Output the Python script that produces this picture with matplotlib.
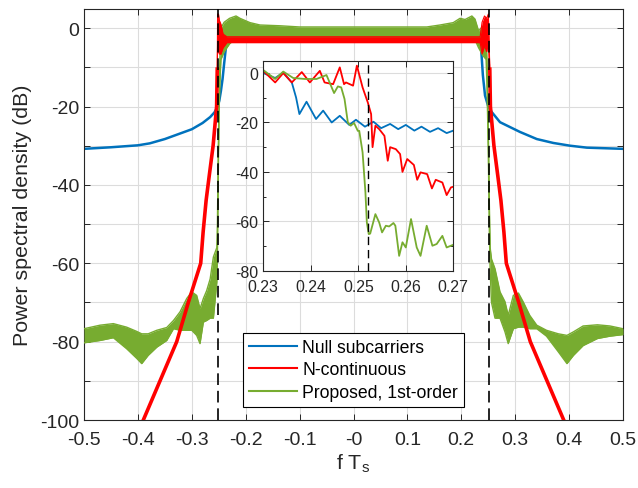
import numpy as np
import matplotlib
matplotlib.use('Agg')
import matplotlib.pyplot as plt

plt.rcParams['font.family'] = ['Liberation Sans', 'DejaVu Sans']
plt.rcParams['axes.unicode_minus'] = False

# ---- main plot data ----
# null subcarriers
blue_x = [-0.5, -0.45, -0.4, -0.378, -0.35, -0.316, -0.30, -0.28, -0.266, -0.258, -0.252,
          -0.249, -0.246, -0.243, -0.240, -0.236, -0.233, -0.22, 0.0, 0.22, 0.233,
          0.236, 0.240, 0.244, 0.250, 0.2564, 0.2718, 0.309, 0.34, 0.3707, 0.4017, 0.433, 0.5]
blue_y = [-30.8, -30.4, -29.9, -29.4, -28.3, -26.6, -25.8, -24.2, -22.7, -21.5, -20.0,
          -18.5, -16.0, -13.0, -9.0, -4.0, -3.0, -3.0, -3.0, -3.0, -3.0,
          -3.6, -12.0, -17.2, -20.0, -21.4, -24.0, -26.5, -28.3, -29.3, -30.0, -30.5, -30.8]

# N-continuous (upper / lower envelope of the ripple)
red_x = [-0.40, -0.39, -0.359, -0.328, -0.3065, -0.2835, -0.279, -0.2735, -0.268, -0.2605,
         -0.254, -0.2528, -0.2522, -0.2505, -0.249, -0.246, -0.242, -0.235,
         0.235, 0.2385, 0.243, 0.247, 0.2502, 0.2515, 0.2528, 0.254, 0.2605, 0.268,
         0.2735, 0.279, 0.2835, 0.3065, 0.328, 0.359, 0.39, 0.40]
red_hi = [-103, -100, -90, -80, -70, -60, -52, -44, -38, -30,
          -20, -10, 3.6, 3.6, 2.0, 1.0, -1.5, -2.2,
          -2.2, 1.5, 3.1, 2.5, 3.6, -3.0, -10, -20, -30, -38,
          -44, -52, -60, -70, -80, -90, -100, -103]
red_lo = [-103, -100, -90, -80, -70, -60, -52, -44, -38, -30,
          -20, -10, -4.0, -6.0, -6.6, -6.6, -5.0, -3.7,
          -3.7, -6.6, -4.5, -6.0, -4.0, -8.0, -10, -20, -30, -38,
          -44, -52, -60, -70, -80, -90, -100, -103]

# proposed, 1st-order (upper / lower envelope of the ripple)
green_x = [-0.5, -0.4703, -0.4456, -0.421, -0.402, -0.393, -0.381, -0.365, -0.3466, -0.334,
           -0.3219, -0.3095, -0.3002, -0.291, -0.2848, -0.2786, -0.2725, -0.266, -0.26, -0.2536,
           -0.2525, -0.2515, -0.2505, -0.2495, -0.248, -0.246, -0.24, -0.23, -0.218, -0.2106,
           -0.192, -0.1735, -0.136, -0.10, 0.136, 0.1605, 0.185, 0.1976, 0.207, 0.2196,
           0.2254, 0.232, 0.24, 0.246, 0.2475, 0.249, 0.2505, 0.252, 0.2535, 0.256,
           0.2625, 0.2718, 0.281, 0.287, 0.2965, 0.306, 0.315, 0.327, 0.34, 0.358,
           0.38, 0.396, 0.408, 0.426, 0.4525, 0.4758, 0.5]
green_hi = [-76.7, -75.8, -75.4, -76.3, -77.4, -78.0, -78.0, -77.1, -76.4, -74.6,
            -72.4, -69.0, -67.3, -68.2, -71.6, -69.0, -67.0, -64.0, -58.4, -56.0,
            -50, -38, -28, -18, -8, 0.0, 1.5, 2.5, 3.1, 2.5,
            1.4, 0.8, 0.6, 0.3, 0.3, 0.8, 1.4, 2.5, 2.2, 3.1,
            2.3, -0.7, 0.5, -2.0, -8, -18, -30, -45, -56, -58.9,
            -61.4, -67.3, -69.8, -73.3, -68.2, -67.6, -69.9, -73.3, -75.8, -77.1,
            -78.0, -78.4, -77.5, -76.0, -75.7, -76.0, -76.7]
green_lo = [-80.3, -79.7, -79.0, -81.8, -84.3, -85.6, -83.5, -81.4, -79.7, -76.7,
            -77.1, -77.1, -77.1, -78.4, -80.5, -75.0, -74.6, -74.0, -74.0, -64.8,
            -58, -45, -32, -22, -14, -8, -6, -4, -2.5, -2.5,
            -2.3, -2.3, -2.3, -2.3, -2.3, -2.3, -2.3, -2.3, -2.3, -2.5,
            -3.0, -5.0, -7.0, -8.0, -14, -24, -36, -52, -62, -70,
            -74.0, -74.0, -77.5, -80.5, -76.7, -76.3, -76.3, -76.7, -76.7, -78.6,
            -82.6, -85.6, -83.5, -81.0, -79.2, -78.6, -78.2]

band_edge = 0.252

# ---- inset data ----
in_blue_x = [0.23, 0.2325, 0.2342, 0.236, 0.2369, 0.2376, 0.2391, 0.2411, 0.2426, 0.2444,
             0.2461, 0.2481, 0.2495, 0.2514, 0.2532, 0.2548, 0.2567, 0.2584, 0.26, 0.2618,
             0.2633, 0.2651, 0.2668, 0.2686, 0.27]
in_blue_y = [0.0, -2.0, 0.2, -3.8, -9.9, -16.6, -11.6, -18.6, -15.2, -20.0,
             -17.3, -21.0, -18.9, -21.7, -19.7, -22.3, -20.6, -22.7, -21.0, -23.3,
             -21.7, -23.8, -22.3, -24.3, -23.3]

in_red_x = [0.23, 0.2325, 0.2342, 0.236, 0.2381, 0.2398, 0.2419, 0.2429, 0.2447, 0.2461,
            0.247, 0.2474, 0.2489, 0.2497, 0.2509, 0.252, 0.2527, 0.253, 0.2536, 0.2544,
            0.2555, 0.2562, 0.2567, 0.2579, 0.2588, 0.2593, 0.2603, 0.2617, 0.2624, 0.2631,
            0.2645, 0.2655, 0.2663, 0.2677, 0.2686, 0.2695, 0.27]
in_red_y = [0.9, -3.8, 0.0, -3.8, 0.4, -3.8, 0.9, -3.8, -4.5, 2.3,
            -4.5, -3.8, -5.1, 3.0, -5.8, -11.9, -16.6, -30.0, -21.3, -22.7,
            -25.4, -35.5, -30.0, -30.8, -32.8, -40.0, -34.8, -37.2, -43.2, -40.2,
            -40.9, -46.7, -43.2, -44.3, -49.4, -46.3, -46.0]

in_green_x = [0.23, 0.2325, 0.2342, 0.2363, 0.2388, 0.2412, 0.2433, 0.2449, 0.2457, 0.2464,
              0.2471, 0.2478, 0.2484, 0.2491, 0.2499, 0.2502, 0.2509, 0.2515, 0.2518, 0.2522,
              0.2525, 0.2536, 0.2544, 0.255, 0.2558, 0.2565, 0.2574, 0.2578, 0.2586, 0.2593,
              0.26, 0.2611, 0.2623, 0.2631, 0.2644, 0.2656, 0.2665, 0.2677, 0.2686, 0.27]
in_green_y = [1.2, -2.4, 0.6, -2.0, -2.4, -2.4, -0.8, -8.1, -5.4, -5.8,
              -10.5, -20.0, -21.3, -20.2, -23.4, -23.4, -32.1, -48.3, -60.5, -65.2,
              -65.0, -57.1, -60.5, -64.5, -61.8, -62.1, -60.7, -61.8, -74.0, -68.5,
              -70.6, -59.1, -70.6, -74.0, -61.8, -69.9, -69.2, -65.9, -70.6, -69.5]

labels = ['Null subcarriers', 'N-continuous', 'Proposed, 1st-order']

c_blue = '#0072BD'
c_red = '#FF0000'
c_green = '#77AC30'
c_axis = '#262626'
c_grid = '#dcdcdc'


def style_axes(ax, fs):
    for s in ax.spines.values():
        s.set_color(c_axis)
        s.set_linewidth(0.8)
    ax.tick_params(which='both', direction='in', top=True, right=True,
                   colors=c_axis, labelsize=fs, length=4, width=0.7)
    ax.grid(True, color=c_grid, linewidth=0.8)
    ax.set_axisbelow(True)


fig = plt.figure(figsize=(6.38, 4.89), dpi=100)

ax = fig.add_axes([0.1317, 0.139, 0.8448, 0.8415])
style_axes(ax, 14)

ax.plot(blue_x, blue_y, color=c_blue, lw=1.8, label=labels[0], zorder=2)

ax.fill_between(green_x, green_lo, green_hi, color=c_green, lw=0, zorder=3)
ax.plot(green_x, green_hi, color=c_green, lw=1.0, zorder=3)
ax.plot(green_x, green_lo, color=c_green, lw=1.0, zorder=3)

# red: thin outline in the passband, thick line on the skirts
rx = np.array(red_x)
rhi = np.array(red_hi, dtype=float)
rlo = np.array(red_lo, dtype=float)
ax.fill_between(rx, rlo, rhi, color=c_red, lw=0, zorder=4)
ax.plot(rx, rhi, color=c_red, lw=0.8, zorder=4)
ax.plot(rx, rlo, color=c_red, lw=0.8, zorder=4)
skirt = np.abs(rx) >= 0.2528
for side in (rx < 0, rx > 0):
    m = skirt & side
    ax.plot(rx[m], rhi[m], color=c_red, lw=2.6, zorder=4, solid_capstyle='butt')

for xv in (-band_edge, band_edge):
    ax.axvline(xv, color='k', lw=1.2, dashes=(7, 3.5), zorder=5)

ax.set_xlim(-0.5, 0.5)
ax.set_ylim(-100, 5)
xt = np.round(np.arange(-0.5, 0.51, 0.1), 1)
ax.set_xticks(xt)
ax.set_xticklabels(['%g' % v for v in xt])
yt = np.arange(-100, 1, 10)
ax.set_yticks(yt)
ax.set_yticklabels([str(v) if v % 20 == 0 else '' for v in yt])
ax.tick_params(axis='x', pad=8)
ax.set_xlabel(r'f T$_\mathregular{s}$', fontsize=15.4, color=c_axis, labelpad=2)
ax.set_ylabel('Power spectral density (dB)', fontsize=15.4, color=c_axis, labelpad=6)

handles = [plt.Line2D([], [], color=c, lw=1.5) for c in (c_blue, c_red, c_green)]
leg = ax.legend(handles, labels, loc='lower center', bbox_to_anchor=(0.5, 0.032),
                fontsize=12.7, frameon=True, fancybox=False, framealpha=1,
                edgecolor='k', handlelength=2.7, handletextpad=0.3,
                labelspacing=0.3, borderpad=0.35, borderaxespad=0)
leg.get_frame().set_linewidth(0.8)
leg.set_zorder(6)

# ---- inset ----
ins = fig.add_axes([0.4127, 0.4444, 0.2978, 0.4294])
ins.set_zorder(10)
ins.set_facecolor('white')
style_axes(ins, 11.4)
ins.plot(in_blue_x, in_blue_y, color=c_blue, lw=1.3)
ins.plot(in_red_x, in_red_y, color=c_red, lw=1.3)
ins.plot(in_green_x, in_green_y, color=c_green, lw=1.3)
ins.axvline(band_edge, color='k', lw=1.0, dashes=(6, 3.5))
ins.set_xlim(0.23, 0.27)
ins.set_ylim(-80, 5)
ixt = [0.23, 0.24, 0.25, 0.26, 0.27]
ins.set_xticks(ixt)
ins.set_xticklabels(['%g' % v for v in ixt])
ins.set_yticks([-80, -60, -40, -20, 0])
ins.set_yticks([-70, -50, -30, -10], minor=True)
ins.tick_params(which='minor', length=2.5)
ins.tick_params(axis='x', pad=6)

fig.savefig('out.png', dpi=100)
